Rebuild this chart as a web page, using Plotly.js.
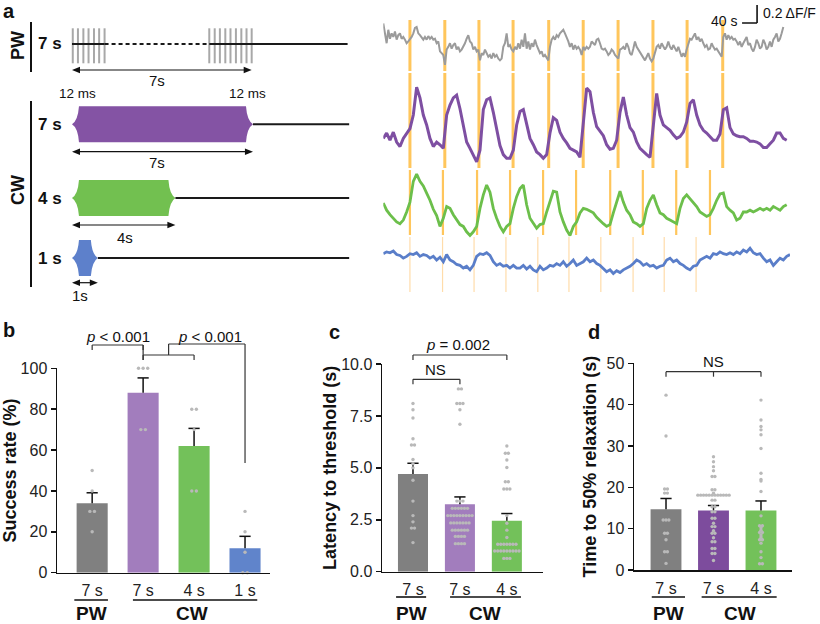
<!DOCTYPE html>
<html><head><meta charset="utf-8">
<script src="https://cdn.plot.ly/plotly-3.0.1.min.js"></script>
<style>html,body{margin:0;padding:0;background:#fff}#chart{width:820px;height:624px}</style>
</head><body><div id="chart"></div>
<script>
// ================= DATA =================
// Panel a: stimulation protocols
const pwLabel = 'PW', cwLabel = 'CW';
const pwDuration = 7;                                   // s
const pwTrainStart = [0.03,0.23,0.44,0.64,0.85,1.05,1.26];           // pulse times (s)
const pwTrainEnd = [5.31,5.52,5.72,5.93,6.13,6.34,6.55,6.75,6.95];   // pulse times (s)
const pulseWidthLabel = '12 ms';
const cwDurations = [7, 4, 1];                           // s

// Panel a: ΔF/F traces (in % ΔF/F), uniformly sampled
const grayStep = 4.444;   // s per sample
const traceStep = 8.889;  // s per sample
const grayTrace = [
48,37,26,41,31,37,33,39,30,35,37,31,33,30,26,28,30,33,37,43,
44,37,35,33,30,33,30,34,31,33,30,31,26,28,17,15,13,2,19,22,
26,20,24,26,19,22,17,19,22,26,31,35,28,26,19,22,17,19,7,15,
13,19,15,11,13,9,15,11,13,9,7,9,22,26,37,22,24,19,17,22,
19,26,20,30,22,37,20,28,19,26,22,30,24,19,15,17,11,13,9,7,
22,30,33,30,35,33,37,39,41,37,33,28,22,26,19,24,20,22,19,13,
22,19,22,20,22,28,26,24,30,31,26,20,19,20,17,13,15,19,17,13,
11,9,19,20,22,19,26,22,15,13,20,28,22,19,15,13,9,7,11,15,
9,6,9,17,22,24,20,26,22,19,22,28,22,19,24,20,17,22,15,11,
15,11,19,26,31,30,33,37,30,33,28,31,26,22,24,19,20,26,22,19,
20,17,13,11,33,37,30,35,31,33,30,31,28,24,28,22,26,30,33,24,
26,20,17,22,30,26,20,22,30,26,19,22,28,22,30,33,37,28,31,37,44];
const purpleTrace = [
24,30,22,31,20,15,24,30,35,50,81,69,50,39,24,15,20,17,13,50,
61,69,72,57,39,20,13,6,-2,11,56,67,69,53,33,16,6,2,2,11,
39,54,56,39,24,17,9,6,2,6,30,47,44,31,24,19,13,11,9,3,
39,80,76,53,37,32,27,17,12,13,22,53,70,50,36,31,20,13,9,6,
3,39,74,50,39,36,33,28,24,26,31,42,63,67,50,39,33,30,26,22,
22,29,56,58,36,29,27,26,26,24,21,21,20,18,14,14,18,22,30,30,24,22];
const greenTrace = [
30,22,17,13,9,7,11,20,31,54,62,54,49,41,33,23,16,4,13,26,
24,17,11,6,4,-2,-6,-2,4,24,39,50,42,24,13,4,-2,4,7,24,
37,46,50,28,13,7,2,6,7,20,31,43,42,20,9,0,-6,4,9,19,
24,23,21,19,14,10,7,4,6,19,30,43,31,22,17,9,7,4,7,24,
33,39,28,19,17,13,11,9,7,24,35,39,35,30,26,20,17,15,17,24,
33,40,41,26,22,19,11,13,20,20,22,20,22,24,22,24,22,26,24,22,26,28];
const blueTrace = [
20,22,21,23,19,18,15,17,20,19,21,17,19,18,15,17,13,16,11,19,
13,11,8,7,4,6,2,7,17,20,19,21,18,11,7,9,6,7,4,7,
4,4,7,3,6,2,0,6,2,4,7,6,9,7,11,6,9,13,7,9,
11,15,11,13,9,7,4,0,2,-2,1,-1,2,4,6,9,13,11,7,9,
6,7,4,6,7,13,15,11,13,9,7,4,2,6,7,13,15,17,15,20,
19,22,20,19,21,19,22,20,24,22,26,21,19,20,15,11,13,7,11,15,13,17,19];
// stimulus onsets (s) for each trace
const stimPW7 = [71,164,255,346,441,533,626,719,810,905];
const stimCW7 = [71,164,255,346,441,533,626,719,810,905];
const stimCW4 = [71,159,250,338,426,514,605,692,781,871];
const stimCW1 = [71,158,242,327,412,495,580,666,749,834];
const scaleTime = 40;     // s
const scaleDff = 20;      // % (0.2 ΔF/F)

// Panel b: success rate (%)
const succCats = ['7 s','7 s','4 s','1 s'];
const succMean = [34, 88, 62, 12];
const succSem  = [5.1, 7.3, 8.6, 5.8];
const succPW7 = [50, 40, 30, 30, 20];
const succCW7 = [100, 100, 100, 70, 70];
const succCW4 = [80, 80, 70, 40, 40];
const succCW1 = [30, 20, 10, 0, 0];

// Panel c: latency to threshold (s)
const latCats = ['7 s','7 s','4 s'];
const latMean = [4.7, 3.25, 2.45];
const latSem  = [0.52, 0.35, 0.35];
const latPW7 = [8.1,7.8,7.4,6.4,6.1,6.1,5.4,5.2,5.0,4.4,3.4,2.7,2.4,2.1,2.1,1.4];
const latCW7 = [8.8,8.8,8.1,8.1,8.1,7.8,7.1,3.4,3.4,3.4,3.05,3.05,3.05,3.05,3.05,3.05,
  2.7,2.7,2.7,2.7,2.7,2.7,2.7,2.7,2.7,2.35,2.35,2.35,2.35,2.35,2.35,2.35,
  2.0,2.0,2.0,2.0,2.0,2.0,1.7,1.7,1.7,1.7,1.35,1.35,1.35,1.35];
const latCW4 = [6.05,5.7,5.7,5.38,5.02,4.33,4.33,3.98,3.98,3.98,2.7,2.33,2.0,1.65,
  1.32,1.32,1.32,1.32,1.32,1.32,1.32,1.0,1.0,1.0,1.0,1.0,1.0,1.0,1.0,1.0,0.64,0.64,0.64];

// Panel d: time to 50% relaxation (s)
const relCats = ['7 s','7 s','4 s'];
const relMean = [14.7, 14.4, 14.4];
const relSem  = [2.6, 1.2, 2.3];
const relPW7 = [42.3,32.4,19.6,19.6,18.6,18.6,12.1,12.1,12.1,8.9,8.9,7.3,4.4,4.4,1.6];
const relCW7 = [27.4,26.2,25,24,22.6,22.6,19.4,19.4,18.6,
  18.1,18.1,18.1,18.1,18.1,18.1,18.1,18.1,18.1,18.1,18.1,18.1,
  16.9,16.9,15.3,15.3,14.1,14.1,12.5,12.5,11.3,10.5,10.5,9.5,8.9,8.9,7.8,6.85,6.85,5.2,5.2,4.0,4.0,2.3];
const relCW4 = [41.1,36.3,34.7,33.9,32.7,29.4,23.4,21.9,21.5,19.0,13.1,10.7,10.7,10.2,9.6,
  9.1,9.1,8.5,8.0,7.6,7.3,7.3,6.5,4.4,3.0,1.5,1.5];

// ================= DRAWING =================
const W = 820, H = 624;
const fx = p => p / W;
const fy = p => 1 - p / H;
const F = 'Liberation Sans, Arial, sans-serif';
const INK = '#111';

const C = {
  grayBar: '#808080', grayTrace: '#9b9b9b', pulse: '#a8a8a8',
  purpleA: '#8453a4', purpleTrace: '#7e4fa2', purpleBar: '#a27dbd', purpleBarD: '#7d4c9d',
  green: '#72c050', greenTrace: '#6cbf4b', greenBar: '#73c15a',
  blue: '#5d80cb', blueTrace: '#5a7ec9', blueBar: '#6084cb',
  orange: '#ffc65c', orangeLight: '#ffdcaa', dot: '#b9b9b9'
};

const traces = [];
const shapes = [];
const ann = [];

function txt(text, x, y, o) {
  return Object.assign({text, x, y, xref: 'paper', yref: 'paper', showarrow: false,
    xanchor: 'center', yanchor: 'middle', font: {family: F, size: 15, color: INK}}, o || {});
}
function hline(xref, x0, x1, y, w, col, extra) {
  shapes.push(Object.assign({type: 'line', xref, yref: 'paper', x0, x1, y0: y, y1: y,
    line: {color: col || INK, width: w || 1.2}}, extra || {}));
}
function vline(xref, x, y0, y1, w, col, extra) {
  shapes.push(Object.assign({type: 'line', xref, yref: 'paper', x0: x, x1: x, y0, y1,
    line: {color: col || INK, width: w || 1.2}}, extra || {}));
}

// ---- panel a traces ----
const trAx = {range: [0, 1084.4], domain: [fx(383.3), fx(790)]};
traces.push({type: 'scatter', mode: 'lines', x0: 0, dx: grayStep, y: grayTrace, xaxis: 'x', yaxis: 'y',
  line: {color: C.grayTrace, width: 2}, hoverinfo: 'skip'});
traces.push({type: 'scatter', mode: 'lines', x0: 0, dx: traceStep, y: purpleTrace, xaxis: 'x', yaxis: 'y2',
  line: {color: C.purpleTrace, width: 3}, hoverinfo: 'skip'});
traces.push({type: 'scatter', mode: 'lines', x0: 0, dx: traceStep, y: greenTrace, xaxis: 'x', yaxis: 'y3',
  line: {color: C.greenTrace, width: 2.8}, hoverinfo: 'skip'});
traces.push({type: 'scatter', mode: 'lines', x0: 0, dx: traceStep, y: blueTrace, xaxis: 'x', yaxis: 'y4',
  line: {color: C.blueTrace, width: 2.8}, hoverinfo: 'skip'});

stimPW7.forEach(t => vline('x', t, fy(71), fy(20), 3, C.orange, {layer: 'below'}));
stimCW7.forEach(t => vline('x', t, fy(168), fy(73), 3, C.orange, {layer: 'below'}));
stimCW4.forEach(t => vline('x', t, fy(235), fy(170), 2.2, C.orange, {layer: 'below'}));
stimCW1.forEach(t => vline('x', t, fy(292), fy(237), 1.2, C.orangeLight, {layer: 'below'}));

// scale bar (data coordinates of the gray trace)
const sbX1 = 996.6, sbY0 = 48.5;
shapes.push({type: 'line', xref: 'x', yref: 'y', x0: sbX1 - scaleTime, x1: sbX1, y0: sbY0, y1: sbY0, line: {color: INK, width: 1.6}});
shapes.push({type: 'line', xref: 'x', yref: 'y', x0: sbX1, x1: sbX1, y0: sbY0, y1: sbY0 + scaleDff, line: {color: INK, width: 1.6}});
ann.push(txt(scaleTime + ' s', sbX1 - scaleTime - 8, sbY0 + 2, {xref: 'x', yref: 'y', xanchor: 'right', font: {family: F, size: 14, color: INK}}));
ann.push(txt('0.' + (scaleDff / 10) + ' ΔF/F', sbX1 + 10, sbY0 + scaleDff * 0.55, {xref: 'x', yref: 'y', xanchor: 'left', font: {family: F, size: 14, color: INK}}));

// ---- panel a schematic (x5 in seconds) ----
traces.push({type: 'scatter', x: [], y: [], xaxis: 'x5', yaxis: 'y5', hoverinfo: 'skip'});
const schemEnd = 10.72;
const rowPW = 44, rowsCW = [124.3, 198, 258];
const arrowPW = 70, arrowsCW = [151.7, 225, 282.7];
const arrowLblPW = 81, arrowLblCW = [163, 237, 295];
const cwColors = [C.purpleA, C.green, C.blue];
const halfH = 18, ramp = 0.27;

// PW pulses + baseline
pwTrainStart.concat(pwTrainEnd).forEach(t => vline('x5', t, fy(63.3), fy(28.3), 2, C.pulse));
hline('x5', 0, pwTrainStart[pwTrainStart.length - 1], fy(rowPW), 2, '#1a1a1a');
hline('x5', pwTrainStart[pwTrainStart.length - 1], pwTrainEnd[0], fy(rowPW), 2, '#1a1a1a', {line: {color: '#1a1a1a', width: 2, dash: '4px,3px'}});
hline('x5', pwTrainEnd[0], schemEnd - 0.06, fy(rowPW), 2, '#1a1a1a');

function dblArrow(x0, x1, yp) {
  hline('x5', x0 + 0.2, x1 - 0.2, fy(yp), 1.2, INK);
  const L = 0.31, hh = 3.2 / H, ym = fy(yp);
  shapes.push({type: 'path', xref: 'x5', yref: 'paper', fillcolor: INK, line: {width: 0},
    path: `M${x0},${ym} L${x0 + L},${ym + hh} L${x0 + L},${ym - hh} Z`});
  shapes.push({type: 'path', xref: 'x5', yref: 'paper', fillcolor: INK, line: {width: 0},
    path: `M${x1},${ym} L${x1 - L},${ym + hh} L${x1 - L},${ym - hh} Z`});
}
dblArrow(0, pwTrainEnd[pwTrainEnd.length - 1], arrowPW);
ann.push(txt(pwDuration + 's', pwDuration / 2 - 0.2, fy(arrowLblPW), {xref: 'x5'}));
ann.push(txt(pulseWidthLabel, fx(57), fy(93), {xanchor: 'left', font: {family: F, size: 13.5, color: INK}}));
ann.push(txt(pulseWidthLabel, pwTrainEnd[pwTrainEnd.length - 1] - 0.17, fy(93), {xref: 'x5', font: {family: F, size: 13.5, color: INK}}));
ann.push(txt('<b>' + pwDuration + ' s</b>', fx(50), fy(rowPW), {font: {family: F, size: 17, color: INK}}));

function hexPath(x0, x1, yc) {
  const ym = fy(yc), yt = fy(yc - halfH), yb = fy(yc + halfH);
  const r = ramp, k = 0.2;
  return `M${x0},${ym} Q${x0 + r * 0.85},${ym + (yt - ym) * k} ${x0 + r},${yt} L${x1 - r},${yt} ` +
    `Q${x1 - r * 0.85},${ym + (yt - ym) * k} ${x1},${ym} Q${x1 - r * 0.85},${ym + (yb - ym) * k} ${x1 - r},${yb} ` +
    `L${x0 + r},${yb} Q${x0 + r * 0.85},${ym + (yb - ym) * k} ${x0},${ym} Z`;
}
cwDurations.forEach((d, i) => {
  shapes.push({type: 'path', xref: 'x5', yref: 'paper', path: hexPath(0, d, rowsCW[i]),
    fillcolor: cwColors[i], line: {width: 0}});
  hline('x5', d, schemEnd, fy(rowsCW[i]), 2, '#1a1a1a');
  dblArrow(0, d, arrowsCW[i]);
  ann.push(txt(d + 's', d / 2 - (i === 1 ? -0.05 : 0.2), fy(arrowLblCW[i]), {xref: 'x5'}));
  ann.push(txt('<b>' + d + ' s</b>', fx(50), fy(rowsCW[i]), {font: {family: F, size: 17, color: INK}}));
});
// group bars and labels
shapes.push({type: 'line', xref: 'paper', yref: 'paper', x0: fx(31), x1: fx(31), y0: fy(22), y1: fy(72), line: {color: INK, width: 2}});
shapes.push({type: 'line', xref: 'paper', yref: 'paper', x0: fx(31), x1: fx(31), y0: fy(101), y1: fy(287), line: {color: INK, width: 2}});
ann.push(txt('<b>' + pwLabel + '</b>', fx(18), fy(46), {textangle: -90, font: {family: F, size: 18, color: INK}}));
ann.push(txt('<b>' + cwLabel + '</b>', fx(18), fy(190), {textangle: -90, font: {family: F, size: 18, color: INK}}));

// panel letters
[['a', 9, 11], ['b', 9, 330], ['c', 334, 332], ['d', 594, 332]].forEach(([l, x, y]) =>
  ann.push(txt('<b>' + l + '</b>', fx(x), fy(y), {font: {family: F, size: 20, color: INK}})));

// ---- bar panels ----
function swarm(vals, xc, spacing) {
  const counts = {}, seen = {};
  vals.forEach(v => counts[v] = (counts[v] || 0) + 1);
  const xs = [], ys = [];
  vals.forEach(v => {
    const n = counts[v], i = seen[v] || 0; seen[v] = i + 1;
    xs.push(xc + (i - (n - 1) / 2) * spacing); ys.push(v);
  });
  return {x: xs, y: ys};
}
function barPanel(ax, means, sems, groups, colors, width, spacing) {
  const xs = means.map((_, i) => i);
  traces.push({type: 'bar', x: xs, y: means, width, xaxis: 'x' + ax, yaxis: 'y' + ax,
    marker: {color: colors, line: {width: 0}}, hoverinfo: 'skip',
    error_y: {type: 'data', symmetric: false, array: sems, arrayminus: sems.map(() => 0),
      width: 0, thickness: 1.5, color: INK}});
  traces.push({type: 'scatter', mode: 'markers', x: xs, y: means.map((m, i) => m + sems[i]),
    xaxis: 'x' + ax, yaxis: 'y' + ax, cliponaxis: false, hoverinfo: 'skip',
    marker: {symbol: 'line-ew', size: 8, line: {width: 1.5, color: INK}}});
  groups.forEach((g, i) => {
    const s = swarm(g, i, spacing);
    traces.push({type: 'scatter', mode: 'markers', x: s.x, y: s.y, xaxis: 'x' + ax, yaxis: 'y' + ax,
      cliponaxis: false, hoverinfo: 'skip', marker: {size: 3.4, color: C.dot}});
  });
}
barPanel(6, succMean, succSem, [succPW7, succCW7, succCW4, succCW1],
  [C.grayBar, C.purpleBar, C.greenBar, C.blueBar], 0.61, 0.09);
barPanel(7, latMean, latSem, [latPW7, latCW7, latCW4],
  [C.grayBar, C.purpleBar, C.greenBar], 0.64, 0.065);
barPanel(8, relMean, relSem, [relPW7, relCW7, relCW4],
  [C.grayBar, C.purpleBarD, C.greenBar], 0.65, 0.06);

function yAx(dom, range, tickvals, title, standoff, fmt) {
  return {domain: dom, range, tickvals, tickformat: fmt, showline: true, linecolor: INK, linewidth: 1.5,
    ticks: 'outside', ticklen: 5, tickwidth: 1.5, tickcolor: INK, showgrid: false, zeroline: false,
    tickfont: {family: F, size: 16, color: '#222'},
    title: {text: '<b>' + title + '</b>', font: {family: F, size: 18, color: INK}, standoff}};
}
function xAx(dom, range, cats, anchor) {
  return {domain: dom, range, anchor, tickvals: cats.map((_, i) => i), ticktext: cats,
    showline: true, linecolor: INK, linewidth: 1.5, ticks: 'outside', ticklen: 3,
    tickcolor: 'rgba(0,0,0,0)', showgrid: false, zeroline: false,
    tickfont: {family: F, size: 16, color: '#222'}};
}

// group labels + underlines
function groupLabels(xref, pwSpan, cwSpan, cwX, lineY) {
  hline(xref, pwSpan[0], pwSpan[1], fy(lineY), 1.6, INK);
  hline(xref, cwSpan[0], cwSpan[1], fy(lineY), 1.6, INK);
  ann.push(txt('<b>' + pwLabel + '</b>', (pwSpan[0] + pwSpan[1]) / 2, fy(613), {xref, font: {family: F, size: 19, color: INK}}));
  ann.push(txt('<b>' + cwLabel + '</b>', cwX, fy(613), {xref, font: {family: F, size: 19, color: INK}}));
}
groupLabels('x6', [-0.35, 0.31], [0.8, 3.24], 1.96, 600);
groupLabels('x7', [-0.36, 0.28], [0.79, 2.3], 1.53, 597);
groupLabels('x8', [-0.3, 0.4], [0.75, 2.33], 1.56, 597);

// significance brackets
function bracket(xref, a, b, yTop, legDown) {
  hline(xref, a, b, fy(yTop), 1.2, '#333');
  vline(xref, a, fy(yTop + legDown), fy(yTop), 1.2, '#333');
  vline(xref, b, fy(yTop + legDown), fy(yTop), 1.2, '#333');
}
// b
bracket('x6', 0, 1, 345, 5);
vline('x6', 1, fy(360), fy(345), 1.2, '#333');
bracket('x6', 1, 2, 355, 5);
vline('x6', 1.5, fy(355), fy(344), 1.2, '#333');
hline('x6', 1.5, 3, fy(344), 1.2, '#333');
vline('x6', 3, fy(463), fy(344), 1.2, '#333');
ann.push(txt('<i>p</i> &lt; 0.001', 0.5, fy(336), {xref: 'x6'}));
ann.push(txt('<i>p</i> &lt; 0.001', 2.31, fy(336), {xref: 'x6'}));
// c
bracket('x7', 0, 2, 355, 5);
bracket('x7', 0, 1, 379.3, 5);
ann.push(txt('<i>p</i> = 0.002', 0.96, fy(344), {xref: 'x7'}));
ann.push(txt('NS', 0.47, fy(369), {xref: 'x7'}));
// d
bracket('x8', 0, 2, 371.7, 5);
vline('x8', 1, fy(376.7), fy(371.7), 1.2, '#333');
ann.push(txt('NS', 1, fy(361), {xref: 'x8'}));

const hidden = {visible: false, showgrid: false, zeroline: false};
const layout = {
  width: W, height: H, margin: {l: 0, r: 0, t: 0, b: 0}, showlegend: false,
  paper_bgcolor: '#fff', plot_bgcolor: 'rgba(0,0,0,0)',
  xaxis: Object.assign({}, hidden, trAx, {anchor: 'y'}),
  yaxis: Object.assign({}, hidden, {domain: [fy(70), fy(3)], range: [-3.7, 70.7], anchor: 'x'}),
  yaxis2: Object.assign({}, hidden, {domain: [fy(172), fy(73)], range: [-13.3, 96.7], anchor: 'x'}),
  yaxis3: Object.assign({}, hidden, {domain: [fy(240), fy(172)], range: [-11.1, 64.4], anchor: 'x'}),
  yaxis4: Object.assign({}, hidden, {domain: [fy(292), fy(240)], range: [-22.6, 35.2], anchor: 'x'}),
  xaxis5: Object.assign({}, hidden, {domain: [fx(60), fx(352)], range: [-0.464, 10.83], anchor: 'y5'}),
  yaxis5: Object.assign({}, hidden, {domain: [fy(300), fy(20)], range: [0, 1], anchor: 'x5'}),
  xaxis6: xAx([fx(57), fx(270)], [-0.69, 3.49], succCats, 'y6'),
  yaxis6: Object.assign(yAx([fy(572.7), fy(368.3)], [0, 100], [0, 20, 40, 60, 80, 100], 'Success rate (%)', 0), {anchor: 'x6'}),
  xaxis7: xAx([fx(382), fx(543)], [-0.66, 2.77], latCats, 'y7'),
  yaxis7: Object.assign(yAx([fy(571.7), fy(364)], [0, 10], [0, 2.5, 5, 7.5, 10], 'Latency to threshold (s)', 0, '.1f'), {anchor: 'x7'}),
  xaxis8: xAx([fx(634), fx(792)], [-0.674, 2.653], relCats, 'y8'),
  yaxis8: Object.assign(yAx([fy(570), fy(363.3)], [0, 50], [0, 10, 20, 30, 40, 50], 'Time to 50% relaxation (s)', 5), {anchor: 'x8'}),
  shapes, annotations: ann
};
Plotly.newPlot('chart', traces, layout, {displayModeBar: false, staticPlot: true});
</script>
</body></html>
